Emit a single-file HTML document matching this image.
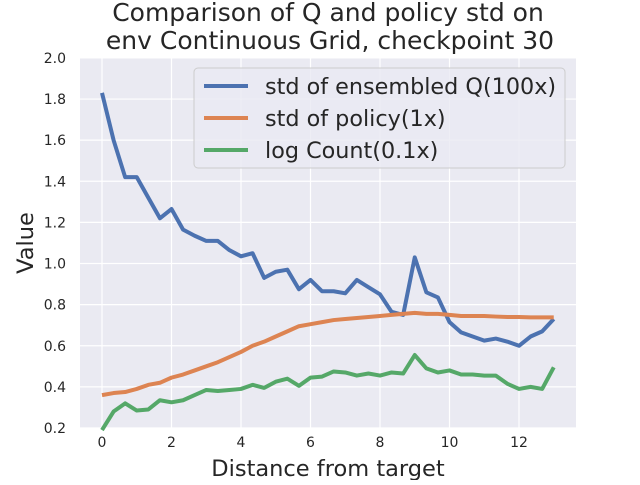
<!DOCTYPE html>
<html><head><meta charset="utf-8"><style>
body{margin:0;background:#fff;font-family:"Liberation Sans","DejaVu Sans",sans-serif}
</style></head><body>
<svg id="chart" width="640" height="480" xmlns="http://www.w3.org/2000/svg" font-family="DejaVu Sans, Liberation Sans, sans-serif">
<rect x="80" y="58" width="496" height="370" fill="#eaeaf2"/>
<g id="grid"></g>
<g id="ticks"></g>
<g id="lines"></g>
<text x="328" y="21" text-anchor="middle" font-size="25" fill="#262626">Comparison of Q and policy std on</text>
<text x="330" y="49" text-anchor="middle" font-size="25" fill="#262626">env Continuous Grid, checkpoint 30</text>
<text x="328" y="476" text-anchor="middle" font-size="22.5" fill="#262626">Distance from target</text>
<text transform="translate(33,243) rotate(-90)" text-anchor="middle" font-size="22.5" fill="#262626">Value</text>
<g id="legend">
<rect x="194" y="68" width="371" height="100" rx="4" fill="#eaeaf2" fill-opacity="0.8" stroke="#cccccc"/>
</g>
</svg>
<script>
const xValues = Array.from({length:40},(_, i)=>i/3);
const qStd = [1.83,1.60,1.42,1.42,1.32,1.22,1.265,1.165,1.135,1.11,1.11,1.065,1.035,1.05,0.93,0.96,0.97,0.875,0.92,0.865,0.865,0.855,0.92,0.885,0.85,0.765,0.75,1.03,0.86,0.835,0.715,0.665,0.645,0.625,0.635,0.62,0.60,0.645,0.67,0.73];
const policyStd = [0.36,0.37,0.375,0.39,0.41,0.42,0.445,0.46,0.48,0.50,0.52,0.545,0.57,0.60,0.62,0.645,0.67,0.695,0.705,0.715,0.725,0.73,0.735,0.74,0.745,0.75,0.755,0.76,0.755,0.755,0.75,0.745,0.745,0.745,0.742,0.74,0.74,0.738,0.738,0.738];
const logCount = [0.19,0.28,0.32,0.285,0.29,0.335,0.325,0.335,0.36,0.385,0.38,0.385,0.39,0.41,0.395,0.425,0.44,0.405,0.445,0.45,0.475,0.47,0.455,0.465,0.455,0.47,0.465,0.555,0.49,0.47,0.48,0.46,0.46,0.455,0.455,0.415,0.39,0.4,0.39,0.495];
const xTicks = [0,2,4,6,8,10,12];
const yTicks = [0.2,0.4,0.6,0.8,1.0,1.2,1.4,1.6,1.8,2.0];
const seriesNames = ["std of ensembled Q(100x)","std of policy(1x)","log Count(0.1x)"];
const colors = ["#4c72b0","#dd8452","#55a868"];

const NS="http://www.w3.org/2000/svg";
const X = v => 102 + v*34.75;
const Y = v => 428 - (v-0.2)*205.6;
function mk(tag, attrs, parent){const e=document.createElementNS(NS,tag);for(const k in attrs)e.setAttribute(k,attrs[k]);parent.appendChild(e);return e;}
const grid=document.getElementById('grid'), ticks=document.getElementById('ticks'), lines=document.getElementById('lines'), legend=document.getElementById('legend');
xTicks.forEach(t=>{
  const l=mk('line',{x1:X(t),x2:X(t),y1:58,y2:428,stroke:'#fff','stroke-width':1.2},grid);
  
  
  const tx=mk('text',{x:X(t),y:447,'text-anchor':'middle','font-size':14,fill:'#262626'},ticks);
  tx.textContent=t;
  
  
});
yTicks.forEach(t=>{
  const l=mk('line',{x1:80,x2:576,y1:Y(t),y2:Y(t),stroke:'#fff','stroke-width':1.2},grid);
  
  
  const tx=mk('text',{x:66,y:Y(t)+5,'text-anchor':'end','font-size':14,fill:'#262626'},ticks);
  tx.textContent=t.toFixed(1);
  
  
});
[qStd,policyStd,logCount].forEach((s,k)=>{
  const p=mk('polyline',{points:s.map((v,i)=>X(xValues[i])+','+Y(v)).join(' '),fill:'none',stroke:colors[k],'stroke-width':4,'stroke-linejoin':'round'},lines);
  
  
  const y=86+k*32;
  const ll=mk('line',{x1:204,x2:248,y1:y,y2:y,stroke:colors[k],'stroke-width':4},legend);
  
  
  const lt=mk('text',{x:265,y:y+8,'font-size':22.3,fill:'#262626'},legend);
  lt.textContent=seriesNames[k];
  
  
});
</script>
</body></html>
